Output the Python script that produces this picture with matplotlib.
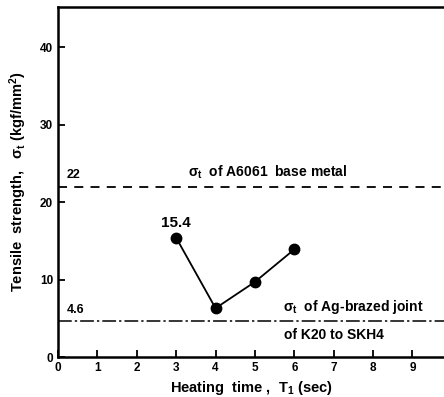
import matplotlib
matplotlib.use("Agg")
import matplotlib.pyplot as plt

heating_time = [3, 4, 5, 6]
tensile_strength = [15.4, 6.3, 9.7, 13.9]
base_metal_level = 22
brazed_level = 4.6
x_ticks = [0, 1, 2, 3, 4, 5, 6, 7, 8, 9]
y_ticks = [0, 10, 20, 30, 40]

plt.rcParams['font.family'] = ['Liberation Sans', 'DejaVu Sans']
plt.rcParams['font.weight'] = 'bold'
plt.rcParams['mathtext.default'] = 'regular'

fig = plt.figure(figsize=(4.44, 3.97), dpi=100)
ax = fig.add_axes([58/444, 40/397, 1 - 58/444, 350/397])
ax.set_xlim(0, 9.8)
ax.set_ylim(0, 45.2)

ax.plot(heating_time, tensile_strength, color='black', lw=1.3, marker='o',
        markersize=7.5, markerfacecolor='black', markeredgecolor='black', zorder=3)
ax.axhline(base_metal_level, color='black', lw=1.3, ls=(0, (5, 4)))
ax.axhline(brazed_level, color='black', lw=1.1, ls=(0, (9, 2, 1.5, 2)))

ax.text(3.0, tensile_strength[0] + 1.0, f"{tensile_strength[0]}", ha='center', va='bottom',
        fontsize=11, fontweight='bold')
ax.text(0.22, base_metal_level + 0.7, f"{base_metal_level}", ha='left', va='bottom',
        fontsize=9, fontweight='bold')
ax.text(5.32, base_metal_level + 0.7, "σ$_t$  of A6061  base metal", ha='center',
        va='bottom', fontsize=10, fontweight='bold')
ax.text(0.22, brazed_level + 0.7, f"{brazed_level}", ha='left', va='bottom',
        fontsize=9, fontweight='bold')
ax.text(7.5, brazed_level + 0.7, "σ$_t$  of Ag-brazed joint", ha='center',
        va='bottom', fontsize=10, fontweight='bold')
ax.text(7.0, brazed_level - 0.9, "of K20 to SKH4", ha='center', va='top',
        fontsize=10, fontweight='bold')

ax.set_xticks(x_ticks)
ax.set_yticks(y_ticks)
ax.tick_params(direction='in', length=5, width=1.3, labelsize=8.5)
for lab in ax.get_xticklabels() + ax.get_yticklabels():
    lab.set_fontweight('bold')
ax.spines['right'].set_visible(False)
for s in ['left', 'bottom', 'top']:
    ax.spines[s].set_linewidth(1.8)

ax.set_xlabel("Heating  time ,  T$_1$ (sec)", fontsize=10.5, fontweight='bold', labelpad=4)
ax.set_ylabel("Tensile  strength,   σ$_t$ (kgf/mm$^2$)", fontsize=10.5, fontweight='bold', labelpad=8)

fig.savefig("out.png", dpi=100)
